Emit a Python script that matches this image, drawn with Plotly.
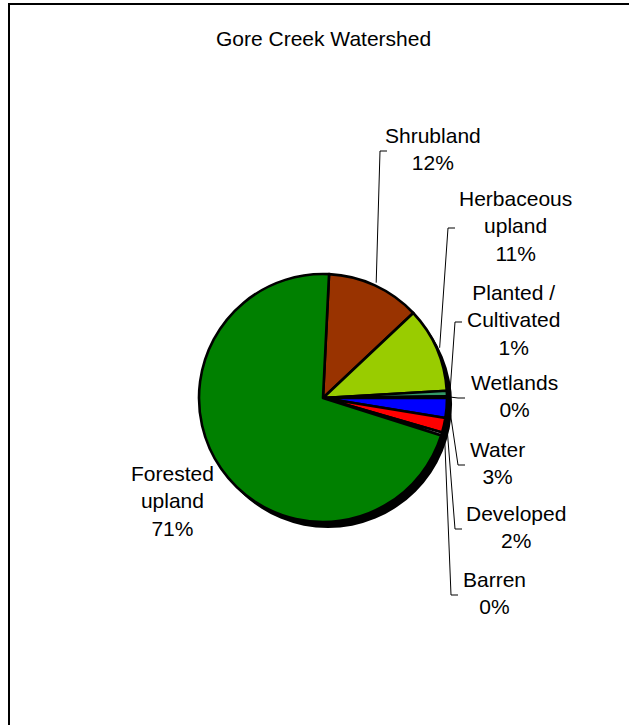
import math
import plotly.graph_objects as go

# Land cover composition of the Gore Creek watershed (percent of area)
categories = ["Shrubland", "Herbaceous upland", "Planted / Cultivated", "Wetlands",
              "Water", "Developed", "Barren", "Forested upland"]
values = [12.2, 11.1, 0.7, 0.2, 2.6, 1.9, 0.4, 70.9]
label_names = ["Shrubland", "Herbaceous<br>upland", "Planted /<br>Cultivated", "Wetlands",
               "Water", "Developed", "Barren", "Forested<br>upland"]
colors = ["#993300", "#99CC00", "#339966", "#33CCCC",
          "#0000FF", "#FF0000", "#D8D8D8", "#008000"]

W, H = 629, 725
CX, CY, R = 323, 398, 124          # pie centre and radius in pixels
ROTATION = 2.8                      # first slice starts just past 12 o'clock
SHADOW_DX, SHADOW_DY = 5, 6

# label block centres (pixels) and left end of each leader line
label_pos = [(433, 149), (515, 226), (513, 320), (514, 396),
             (497, 463), (516, 527), (494, 593), (172, 501)]
label_left = [387, 455, 462, 465, 465, 462, 458, None]
FONT = "Liberation Sans, Arial, sans-serif"


def px(x):
    return x / W


def py(y):
    return 1 - y / H


def domain(cx, cy, r):
    return dict(x=[px(cx - r), px(cx + r)], y=[py(cy + r), py(cy - r)])


fig = go.Figure()

# drop shadow behind the pie
fig.add_trace(go.Pie(
    values=[1], marker=dict(colors=["#000000"], line=dict(width=0)),
    textinfo="none", hoverinfo="skip", showlegend=False, sort=False,
    domain=domain(CX + SHADOW_DX, CY + SHADOW_DY, R),
))

fig.add_trace(go.Pie(
    labels=categories, values=values, sort=False, direction="clockwise",
    rotation=ROTATION, textinfo="none", showlegend=False,
    marker=dict(colors=colors, line=dict(color="#000000", width=2.6)),
    domain=domain(CX, CY, R),
))

total = sum(values)
annotations = [dict(
    text="Gore Creek Watershed", x=px(323), y=py(38), xref="paper", yref="paper",
    showarrow=False, xanchor="center", yanchor="middle",
    font=dict(family=FONT, size=21, color="#000000"),
)]
shapes = []

start = ROTATION
for i, v in enumerate(values):
    span = v / total * 360
    mid = math.radians(start + span / 2)
    start += span
    pct = f"{v / total * 100:.0f}%"
    lx, ly = label_pos[i]
    annotations.append(dict(
        text=f"{label_names[i]}<br>{pct}", x=px(lx), y=py(ly),
        xref="paper", yref="paper", showarrow=False,
        xanchor="center", yanchor="middle", align="center",
        font=dict(family=FONT, size=21, color="#000000"),
    ))
    if label_left[i] is not None:
        # leader line: slice edge -> elbow -> short horizontal to label
        sx = CX + (R + 3) * math.sin(mid)
        sy = CY - (R + 3) * math.cos(mid)
        ex = label_left[i]
        ey = ly + 2
        elbow_x = ex - 7
        path = (f"M {px(sx)},{py(sy)} L {px(elbow_x)},{py(ey)} "
                f"L {px(ex)},{py(ey)}")
        shapes.append(dict(type="path", path=path, xref="paper", yref="paper",
                           line=dict(color="#000000", width=1)))

# chart area frame
shapes.append(dict(type="rect", xref="paper", yref="paper",
                   x0=px(9), y0=py(760), x1=px(660), y1=py(4),
                   line=dict(color="#000000", width=2), fillcolor="rgba(0,0,0,0)"))

fig.update_layout(
    width=W, height=H, margin=dict(l=0, r=0, t=0, b=0),
    paper_bgcolor="#FFFFFF", plot_bgcolor="#FFFFFF",
    annotations=annotations, shapes=shapes,
)

fig.write_html("out.html")
